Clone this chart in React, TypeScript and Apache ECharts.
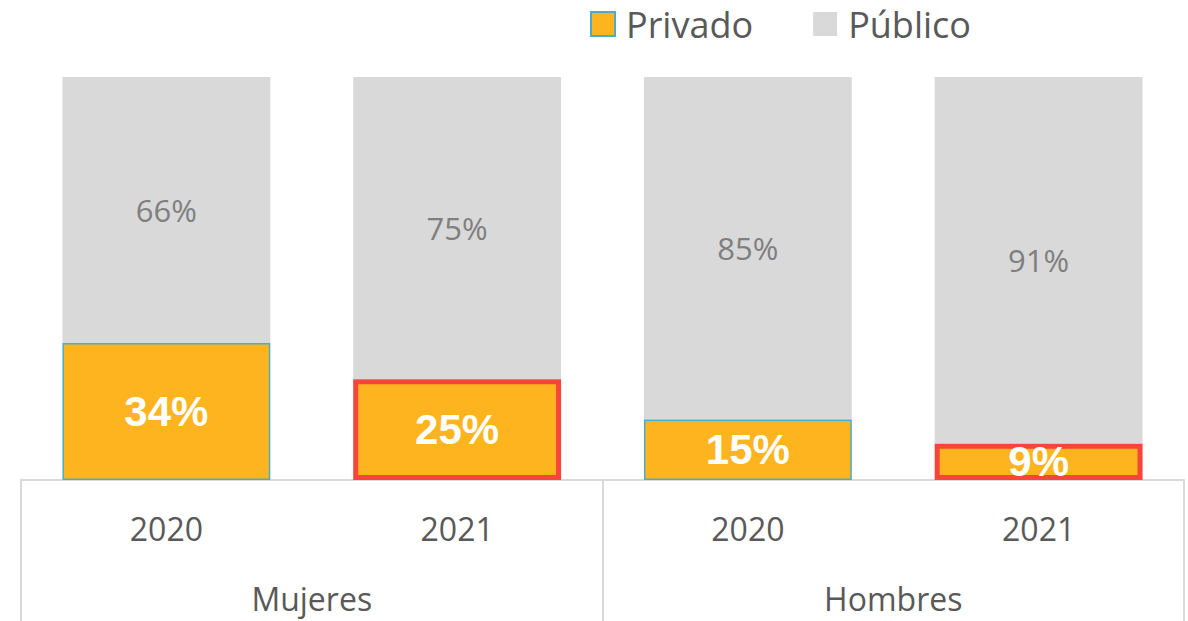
import React, { useEffect, useRef } from "react";
import * as echarts from "echarts";

const years = ["2020", "2021", "2020", "2021"];
const groups = ["Mujeres", "Hombres"];
const privado = [34, 25, 15, 9];
const publico = [66, 75, 85, 91];
const seriesNames = ["Privado", "Público"];

const ORANGE = "#FDB41E";
const GRAY = "#D9D9D9";
const BLUE = "#4BACC6";
const RED = "#F8443A";

export default function App() {
  const ref = useRef<HTMLDivElement>(null);
  useEffect(() => {
    if (!ref.current) return;
    const chart = echarts.init(ref.current, undefined, { renderer: "svg" });
    const font = "'Open Sans', 'Noto Sans', sans-serif";
    chart.setOption({
      animation: false,
      legend: {
        top: 5,
        left: 590,
        padding: 0,
        icon: "rect",
        itemWidth: 24,
        itemHeight: 24,
        itemGap: 60,
        textStyle: {
          fontSize: 36,
          lineHeight: 38,
          color: "#595959",
          fontFamily: font,
          padding: [0, 0, 0, 6],
        },
        data: [
          { name: seriesNames[0], itemStyle: { color: ORANGE, borderColor: BLUE, borderWidth: 2 } },
          { name: seriesNames[1], itemStyle: { color: GRAY } },
        ],
      },
      grid: { left: 21, right: 4, top: 77, bottom: 141 },
      xAxis: [
        {
          type: "category",
          data: years,
          position: "bottom",
          axisLine: { show: true, lineStyle: { color: "#D9D9D9", width: 2 } },
          axisTick: { show: false },
          axisLabel: { fontSize: 32, color: "#595959", fontFamily: font, margin: 32 },
        },
        {
          type: "category",
          data: groups,
          position: "bottom",
          offset: 0,
          axisLine: { show: false },
          axisTick: { show: true, length: 141, alignWithLabel: false, lineStyle: { color: "#D9D9D9", width: 2 } },
          axisLabel: { fontSize: 32, color: "#595959", fontFamily: font, margin: 102 },
        },
      ],
      yAxis: { type: "value", min: 0, max: 100, show: false },
      series: [
        {
          name: seriesNames[0],
          type: "bar",
          stack: "a",
          barWidth: "71.5%",
          data: privado.map((v, i) => ({
            value: v,
            itemStyle:
              i % 2 === 0
                ? { color: ORANGE, borderColor: BLUE, borderWidth: 1.5 }
                : { color: ORANGE, borderColor: RED, borderWidth: 5 },
          })),
          label: {
            show: true,
            position: "inside",
            formatter: "{c}%",
            color: "#FFFFFF",
            fontSize: 42,
            fontWeight: "bold",
            fontFamily: "'Liberation Sans', Arial, sans-serif",
          },
          z: 3,
        },
        {
          name: seriesNames[1],
          type: "bar",
          stack: "a",
          barWidth: "71.5%",
          itemStyle: { color: GRAY },
          data: publico,
          label: {
            show: true,
            position: "inside",
            formatter: "{c}%",
            color: "#7F7F7F",
            fontSize: 31,
            fontFamily: font,
          },
          z: 2,
        },
      ],
    });
    return () => chart.dispose();
  }, []);
  return (
    <div
      ref={ref}
      style={{ position: "fixed", left: 0, top: 0, width: 1188, height: 621, background: "#fff" }}
    />
  );
}
